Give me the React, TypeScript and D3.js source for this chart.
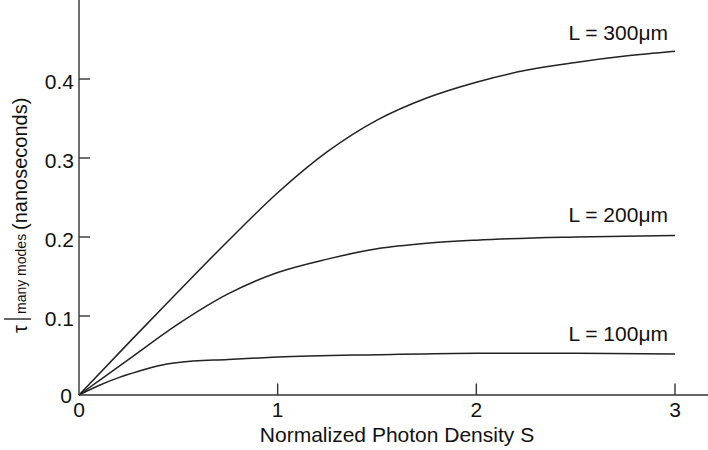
import React from "react";
import * as d3 from "d3";

const S300 = [0, 0.25, 0.5, 0.75, 1, 1.25, 1.5, 1.75, 2, 2.25, 2.5, 2.75, 3];
const T300 = [0, 0.066, 0.131, 0.195, 0.256, 0.308, 0.348, 0.376, 0.396, 0.411, 0.421, 0.429, 0.435];
const S200 = [0, 0.25, 0.5, 0.75, 1, 1.25, 1.5, 1.75, 2, 2.5, 3];
const T200 = [0, 0.045, 0.09, 0.128, 0.155, 0.172, 0.185, 0.192, 0.196, 0.2, 0.202];
const S100 = [0, 0.1, 0.2, 0.3, 0.4, 0.5, 0.75, 1, 1.5, 2, 2.5, 3];
const T100 = [0, 0.012, 0.022, 0.03, 0.037, 0.041, 0.045, 0.048, 0.051, 0.053, 0.053, 0.052];
const seriesLabels = ["L = 300μm", "L = 200μm", "L = 100μm"];
const xTicks = [0, 1, 2, 3];
const yTicks = [0, 0.1, 0.2, 0.3, 0.4];
const xTitle = "Normalized Photon Density S";

const W = 708, H = 450;
const FONT = "'Liberation Sans', Arial, Helvetica, sans-serif";
const FS = 21;

export default function App() {
  const x = d3.scaleLinear().domain([0, 3]).range([79, 675]);
  const y = d3.scaleLinear().domain([0, 0.5]).range([395, 0]);
  const line = d3.line<[number, number]>().x(d => x(d[0])).y(d => y(d[1])).curve(d3.curveMonotoneX);
  const series = [
    { s: S300, t: T300, label: seriesLabels[0], ly: 40 },
    { s: S200, t: T200, label: seriesLabels[1], ly: 222 },
    { s: S100, t: T100, label: seriesLabels[2], ly: 341 },
  ];
  const axisColor = "#333";
  return (
    <svg width={W} height={H} style={{ position: "absolute", left: 0, top: 0, background: "#fff" }} fontFamily={FONT}>
      <rect width={W} height={H} fill="#fff" />
      {series.map((sr, i) => (
        <g key={i}>
          <path d={line(sr.s.map((v, j) => [v, sr.t[j]] as [number, number])) || ""} fill="none" stroke="#222" strokeWidth={1.5} />
          <text x={668} y={sr.ly} textAnchor="end" fontSize={FS} fill="#111">{sr.label}</text>
        </g>
      ))}
      <line x1={x(0)} x2={W} y1={y(0)} y2={y(0)} stroke={axisColor} strokeWidth={1.4} />
      <line x1={x(0)} x2={x(0)} y1={0} y2={y(0)} stroke={axisColor} strokeWidth={1.4} />
      {xTicks.map(t => (
        <g key={"x" + t}>
          {t > 0 && <line x1={x(t)} x2={x(t)} y1={y(0)} y2={y(0) - 11.5} stroke={axisColor} strokeWidth={1.4} />}
          <text x={x(t)} y={417} textAnchor="middle" fontSize={FS} fill="#111">{t}</text>
        </g>
      ))}
      {yTicks.map(t => (
        <g key={"y" + t}>
          {t > 0 && <line x1={x(0)} x2={x(0) + 11} y1={y(t)} y2={y(t)} stroke={axisColor} strokeWidth={1.4} />}
          <text x={t === 0 ? 72 : 74} y={t === 0 ? 403 : y(t) + 9.5} textAnchor="end" fontSize={FS} fill="#111">{t === 0 ? "0" : t.toFixed(1)}</text>
        </g>
      ))}
      <text x={397} y={442} textAnchor="middle" fontSize={FS} fill="#111">{xTitle}</text>
      <g transform="translate(27,333) rotate(-90)">
        <text x={0} y={0} fontSize={20} fill="#111">τ</text>
        <line x1={14} x2={14} y1={-23} y2={4} stroke="#111" strokeWidth={1.3} />
        <text x={19} y={-1} fontSize={14} fill="#111">many modes</text>
        <text x={103} y={0} fontSize={20} fill="#111">(nanoseconds)</text>
      </g>
    </svg>
  );
}
